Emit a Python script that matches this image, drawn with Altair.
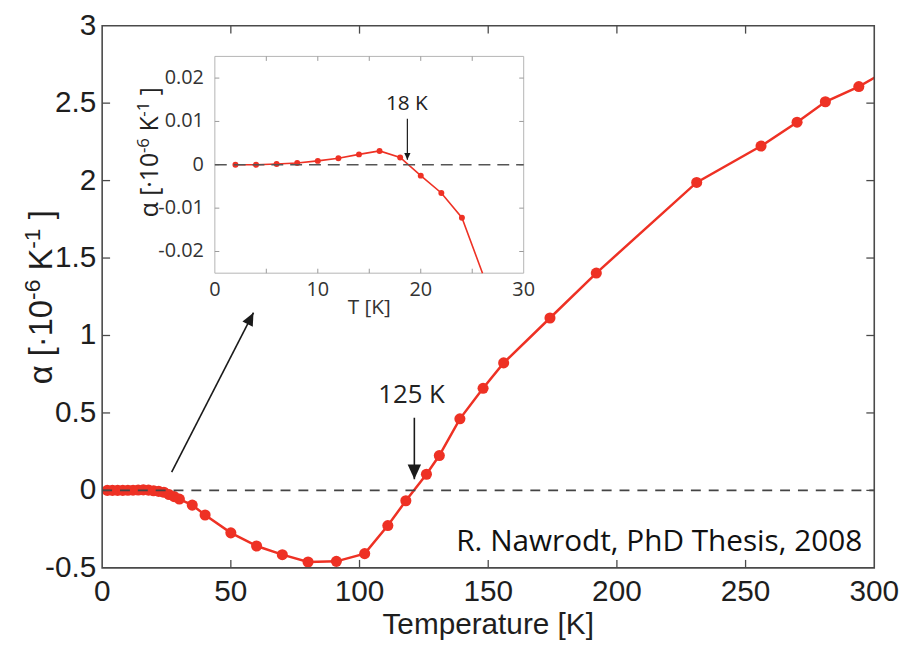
import altair as alt
import pandas as pd

# ---------------- data ----------------
main_T = [2, 4, 6, 8, 10, 12, 14, 16, 18, 20, 22, 24, 26, 28, 30, 35, 40, 50, 60, 70, 80, 91,
          102, 111, 118, 126, 131, 139, 148, 156, 174, 192, 231, 256, 270, 281, 294, 306]
main_alpha = [0.0, 0.0, 0.0002, 0.0004, 0.0009, 0.0015, 0.0024, 0.0032, 0.0017, -0.0025, -0.0065,
              -0.0122, -0.027, -0.04, -0.056, -0.095, -0.159, -0.274, -0.359, -0.415, -0.462, -0.458,
              -0.408, -0.227, -0.067, 0.104, 0.225, 0.462, 0.659, 0.823, 1.113, 1.403, 1.988, 2.223,
              2.377, 2.509, 2.607, 2.72]

inset_T = [2, 4, 6, 8, 10, 12, 14, 16, 18, 20, 22, 24, 26]
inset_alpha = [0.0, 0.0, 0.0002, 0.0004, 0.0009, 0.0015, 0.0024, 0.0032, 0.0017, -0.0025, -0.0065,
               -0.0122, -0.027]

x_ticks = [0, 50, 100, 150, 200, 250, 300]
x_labels = ["0", "50", "100", "150", "200", "250", "300"]
y_ticks = [-0.5, 0, 0.5, 1, 1.5, 2, 2.5, 3]
y_labels = ["-0.5", "0", "0.5", "1", "1.5", "2", "2.5", "3"]
inset_x_ticks = [5, 10, 15, 20, 25]
inset_x_labels_val = [0, 10, 20, 30]
inset_x_labels = ["0", "10", "20", "30"]
inset_y_ticks = [-0.02, -0.01, 0, 0.01, 0.02]
inset_y_labels = ["-0.02", "-0.01", "0", "0.01", "0.02"]

x_title = "Temperature [K]"
# y title "α [·10^-6 K^-1 ]" split into normal / superscript pieces
y_title_pieces = ["α [·10", "-6", "K", "-1", "]"]
y_title_super = [False, True, False, True, False]
y_title_gap = [False, False, True, False, True]     # a space before the piece
inset_x_title = "T [K]"
credit = "R. Nawrodt, PhD Thesis, 2008"

# annotation arrows (start T, start alpha, tip T, tip alpha)
main_arrow_T0 = [27.0, 121.3]
main_arrow_a0 = [0.118, 0.469]
main_arrow_T1 = [58.8, 121.3]
main_arrow_a1 = [1.147, 0.072]
main_arrow_angle = [27.2, 180]
main_arrow_size = [676, 900]

inset_arrow_T0 = [18.7]
inset_arrow_a0 = [0.01065]
inset_arrow_T1 = [18.7]
inset_arrow_a1 = [0.00114]

# ---------------- layout / style ----------------
W, H = 779, 547
OX, OY = 103, 23            # page position of the plot origin
RED = "#EE3124"
FRAME = "#4a4a4a"
FA = "Liberation Sans, Arial, Helvetica, sans-serif"
FT = "Open Sans, Segoe UI, sans-serif"
TXT = "#1e1e1e"
HEAD = "M0,0L-0.45,1L0.45,1Z"

xs = alt.Scale(domain=[0, 300], nice=False, zero=False)
ys = alt.Scale(domain=[-0.5, 3], nice=False, zero=False)
TLX = 8 * 300 / W
TLY = 8 * 3.5 / H
PXX = 300 / W          # data units per pixel, main x
PXY = 3.5 / H          # data units per pixel, main y

IX0, IX1 = 113.7, 425.3
IYB, IYT = 249.7, 31.0
ixs = alt.Scale(domain=[0, 30], range=[IX0, IX1], nice=False, zero=False)
iys = alt.Scale(domain=[-0.025, 0.025], range=[IYB, IYT], nice=False, zero=False, clamp=True)
ITLX = 4.5 * 30 / (IX1 - IX0)
ITLY = 4.5 * 0.05 / (IYB - IYT)
IPXX = 30 / (IX1 - IX0)
IPXY = 0.05 / (IYB - IYT)

one = pd.DataFrame({"k": [0]})


def MX(v):
    return alt.XDatum(v, scale=xs, axis=None)


def MY(v):
    return alt.YDatum(v, scale=ys, axis=None)


def IX(v):
    return alt.XDatum(v, scale=ixs, axis=None)


def IY(v):
    return alt.YDatum(v, scale=iys, axis=None)


def title_pieces(widths_em, base, sup, center_y, base_x, raise_px, tox, toy):
    """Rotated (reading upward) title made of normal and superscript pieces."""
    sizes = [sup if s else base for s in y_title_super]
    gaps = [widths_em[" "] * base if g else 0.0 for g in y_title_gap]
    lens = [sum(widths_em.get(ch, 0.55) for ch in p) * fs for p, fs in zip(y_title_pieces, sizes)]
    total = sum(lens) + sum(gaps)
    y = center_y + total / 2
    rows = []
    for p, fs, ln, gp, s in zip(y_title_pieces, sizes, lens, gaps, y_title_super):
        y -= gp
        rows.append({"s": p, "fs": fs, "px": tox(base_x - (raise_px if s else 0)), "py": toy(y)})
        y -= ln
    return pd.DataFrame(rows)


main_df = pd.DataFrame({"T": main_T, "a": main_alpha})

main_line = alt.Chart(main_df).mark_line(color=RED, strokeWidth=2.5, clip=True).encode(
    x=alt.X("T:Q", scale=xs, axis=None), y=alt.Y("a:Q", scale=ys, axis=None))
main_pts = alt.Chart(main_df).mark_circle(color=RED, size=125, opacity=1, clip=True).encode(
    x=alt.X("T:Q", scale=xs, axis=None), y=alt.Y("a:Q", scale=ys, axis=None))
main_zero = alt.Chart(one).mark_rule(color="#444444", strokeWidth=1.6, strokeDash=[10, 8]).encode(
    x=MX(0), x2=alt.X2Datum(300), y=MY(0))

xt_in = pd.DataFrame({"t": x_ticks[1:-1]})
yt_in = pd.DataFrame({"t": y_ticks[1:-1]})
tick_b = alt.Chart(xt_in).mark_rule(color=FRAME, strokeWidth=1.3).encode(
    x=alt.X("t:Q", scale=xs, axis=None), y=MY(-0.5), y2=alt.Y2Datum(-0.5 + TLY))
tick_t = alt.Chart(xt_in).mark_rule(color=FRAME, strokeWidth=1.3).encode(
    x=alt.X("t:Q", scale=xs, axis=None), y=MY(3), y2=alt.Y2Datum(3 - TLY))
tick_l = alt.Chart(yt_in).mark_rule(color=FRAME, strokeWidth=1.3).encode(
    y=alt.Y("t:Q", scale=ys, axis=None), x=MX(0), x2=alt.X2Datum(TLX))
tick_r = alt.Chart(yt_in).mark_rule(color=FRAME, strokeWidth=1.3).encode(
    y=alt.Y("t:Q", scale=ys, axis=None), x=MX(300), x2=alt.X2Datum(300 - TLX))
main_frame = alt.Chart(one).mark_rect(fillOpacity=0, stroke=FRAME, strokeWidth=1.6).encode(
    x=MX(0), x2=alt.X2Datum(300), y=MY(-0.5), y2=alt.Y2Datum(3))

# axis labels and titles (text marks placed through the scales)
xlab = alt.Chart(pd.DataFrame({"t": x_ticks, "s": x_labels})).mark_text(
    font=FA, fontSize=30, color=TXT, align="center", baseline="top", dy=9).encode(
    x=alt.X("t:Q", scale=xs, axis=None), y=MY(-0.5), text="s:N")
ylab = alt.Chart(pd.DataFrame({"t": y_ticks, "s": y_labels})).mark_text(
    font=FA, fontSize=30, color=TXT, align="right", baseline="middle", dx=-6).encode(
    y=alt.Y("t:Q", scale=ys, axis=None), x=MX(0), text="s:N")
xtit = alt.Chart(one).mark_text(text=x_title, font=FA, fontSize=30, color=TXT,
                                align="center", baseline="middle").encode(
    x=MX(150), y=MY(-0.5 - 58 * PXY))

W_ARIAL = {"α": 0.578, " ": 0.278, "[": 0.278, "·": 0.333, "1": 0.556, "0": 0.556,
           "-": 0.333, "6": 0.556, "K": 0.667, "]": 0.278}
ytit_df = title_pieces(W_ARIAL, 33, 23, 297, 52, 12,
                       lambda px: (px - OX) * PXX, lambda py: 3 - (py - OY) * PXY)
ytit = alt.Chart(ytit_df).mark_text(font=FA, color=TXT, align="left", baseline="alphabetic",
                                    angle=270).encode(
    x=alt.X("px:Q", scale=xs, axis=None), y=alt.Y("py:Q", scale=ys, axis=None),
    text="s:N", size=alt.Size("fs:Q", scale=None))

arr_df = pd.DataFrame({"T0": main_arrow_T0, "a0": main_arrow_a0, "T1": main_arrow_T1,
                       "a1": main_arrow_a1, "ang": main_arrow_angle, "sz": main_arrow_size})
main_shafts = alt.Chart(arr_df).mark_rule(color="#1a1a1a", strokeWidth=1.6).encode(
    x=alt.X("T0:Q", scale=xs, axis=None), y=alt.Y("a0:Q", scale=ys, axis=None),
    x2="T1:Q", y2="a1:Q")
main_heads = alt.Chart(arr_df).mark_point(shape=HEAD, filled=True, opacity=1, color="#1a1a1a",
                                          strokeWidth=0).encode(
    x=alt.X("T1:Q", scale=xs, axis=None), y=alt.Y("a1:Q", scale=ys, axis=None),
    angle=alt.Angle("ang:Q", scale=None), size=alt.Size("sz:Q", scale=None))

lbl125 = alt.Chart(one).mark_text(text="125 K", font=FT, fontSize=26, color="#222222",
                                  align="center", baseline="middle").encode(x=MX(120.2), y=MY(0.616))
lblcred = alt.Chart(one).mark_text(text=credit, font=FT, fontSize=30, color="#111111",
                                   align="right", baseline="middle").encode(x=MX(295.3), y=MY(-0.332))

main = alt.layer(main_line, main_pts, main_zero, tick_b, tick_t, tick_l, tick_r, main_frame,
                 xlab, ylab, xtit, ytit, main_shafts, main_heads, lbl125, lblcred)

# ---------------- inset ----------------
inset_df = pd.DataFrame({"it": inset_T, "ia": inset_alpha})
ibg = alt.Chart(one).mark_rect(fill="white", stroke="#b4b4b4", strokeWidth=1).encode(
    x=IX(0), x2=alt.X2Datum(30), y=IY(-0.025), y2=alt.Y2Datum(0.025))
ixt = pd.DataFrame({"t": inset_x_ticks})
iyt = pd.DataFrame({"t": inset_y_ticks})
itick_b = alt.Chart(ixt).mark_rule(color="#9a9a9a", strokeWidth=1).encode(
    x=alt.X("t:Q", scale=ixs, axis=None), y=IY(-0.025), y2=alt.Y2Datum(-0.025 + ITLY))
itick_t = alt.Chart(ixt).mark_rule(color="#9a9a9a", strokeWidth=1).encode(
    x=alt.X("t:Q", scale=ixs, axis=None), y=IY(0.025), y2=alt.Y2Datum(0.025 - ITLY))
itick_l = alt.Chart(iyt).mark_rule(color="#9a9a9a", strokeWidth=1).encode(
    y=alt.Y("t:Q", scale=iys, axis=None), x=IX(0), x2=alt.X2Datum(ITLX))
itick_r = alt.Chart(iyt).mark_rule(color="#9a9a9a", strokeWidth=1).encode(
    y=alt.Y("t:Q", scale=iys, axis=None), x=IX(30), x2=alt.X2Datum(30 - ITLX))
izero = alt.Chart(one).mark_rule(color="#555555", strokeWidth=1.5, strokeDash=[12, 7]).encode(
    x=IX(0), x2=alt.X2Datum(30), y=IY(0))
iline = alt.Chart(inset_df).mark_line(color=RED, strokeWidth=1.6).encode(
    x=alt.X("it:Q", scale=ixs, axis=None), y=alt.Y("ia:Q", scale=iys, axis=None))
ipts = alt.Chart(inset_df).transform_filter(alt.datum.ia >= -0.025).mark_circle(
    color=RED, size=36, opacity=1).encode(
    x=alt.X("it:Q", scale=ixs, axis=None), y=alt.Y("ia:Q", scale=iys, axis=None))
ixl = alt.Chart(pd.DataFrame({"t": inset_x_labels_val, "s": inset_x_labels})).mark_text(
    font=FT, fontSize=20, color="#333333", align="center", baseline="top", dy=7).encode(
    x=alt.X("t:Q", scale=ixs, axis=None), y=IY(-0.025), text="s:N")
iyl = alt.Chart(pd.DataFrame({"t": inset_y_ticks, "s": inset_y_labels})).mark_text(
    font=FT, fontSize=20, color="#333333", align="right", baseline="middle", dx=-11).encode(
    y=alt.Y("t:Q", scale=iys, axis=None), x=IX(0), text="s:N")
ixtitle = alt.Chart(one).mark_text(text=inset_x_title, font=FT, fontSize=21, color="#333333",
                                   align="center", baseline="middle", dy=35).encode(
    x=IX(15), y=IY(-0.025))

W_OPEN = {"α": 0.62, " ": 0.26, "[": 0.30, "·": 0.27, "1": 0.572, "0": 0.572,
          "-": 0.322, "6": 0.572, "K": 0.60, "]": 0.30}
iytit_df = title_pieces(W_OPEN, 25, 17, 151, 159, 9,
                        lambda px: (px - OX - IX0) * IPXX,
                        lambda py: (OY + (IYB + IYT) / 2 - py) * IPXY)
iytitle = alt.Chart(iytit_df).mark_text(font=FT, color="#222222", align="left",
                                        baseline="alphabetic", angle=270).encode(
    x=alt.X("px:Q", scale=ixs, axis=None), y=alt.Y("py:Q", scale=iys, axis=None),
    text="s:N", size=alt.Size("fs:Q", scale=None))
i18 = alt.Chart(one).mark_text(text="18 K", font=FT, fontSize=21, color="#222222",
                               align="center", baseline="alphabetic").encode(
    x=IX(18.65), y=IY(0.01257))
iarr_df = pd.DataFrame({"T0": inset_arrow_T0, "a0": inset_arrow_a0,
                        "T1": inset_arrow_T1, "a1": inset_arrow_a1})
ishaft = alt.Chart(iarr_df).mark_rule(color="#1a1a1a", strokeWidth=1.2).encode(
    x=alt.X("T0:Q", scale=ixs, axis=None), y=alt.Y("a0:Q", scale=iys, axis=None),
    x2="T1:Q", y2="a1:Q")
ihead = alt.Chart(iarr_df).mark_point(shape=HEAD, filled=True, opacity=1, color="#1a1a1a",
                                      strokeWidth=0, size=196, angle=180).encode(
    x=alt.X("T1:Q", scale=ixs, axis=None), y=alt.Y("a1:Q", scale=iys, axis=None))

inset = alt.layer(ibg, itick_b, itick_t, itick_l, itick_r, iline, ipts, izero, ixl, iyl,
                  ixtitle, iytitle, i18, ishaft, ihead)

chart = alt.layer(main, inset).resolve_scale(x="independent", y="independent").properties(
    width=W, height=H,
    padding={"left": 95, "top": 15, "right": 30, "bottom": 76},
    autosize=alt.AutoSizeParams(type="none"),
    background="white",
).configure_view(stroke=None)

chart.save("out.html", embed_options={"renderer": "svg", "actions": False})
